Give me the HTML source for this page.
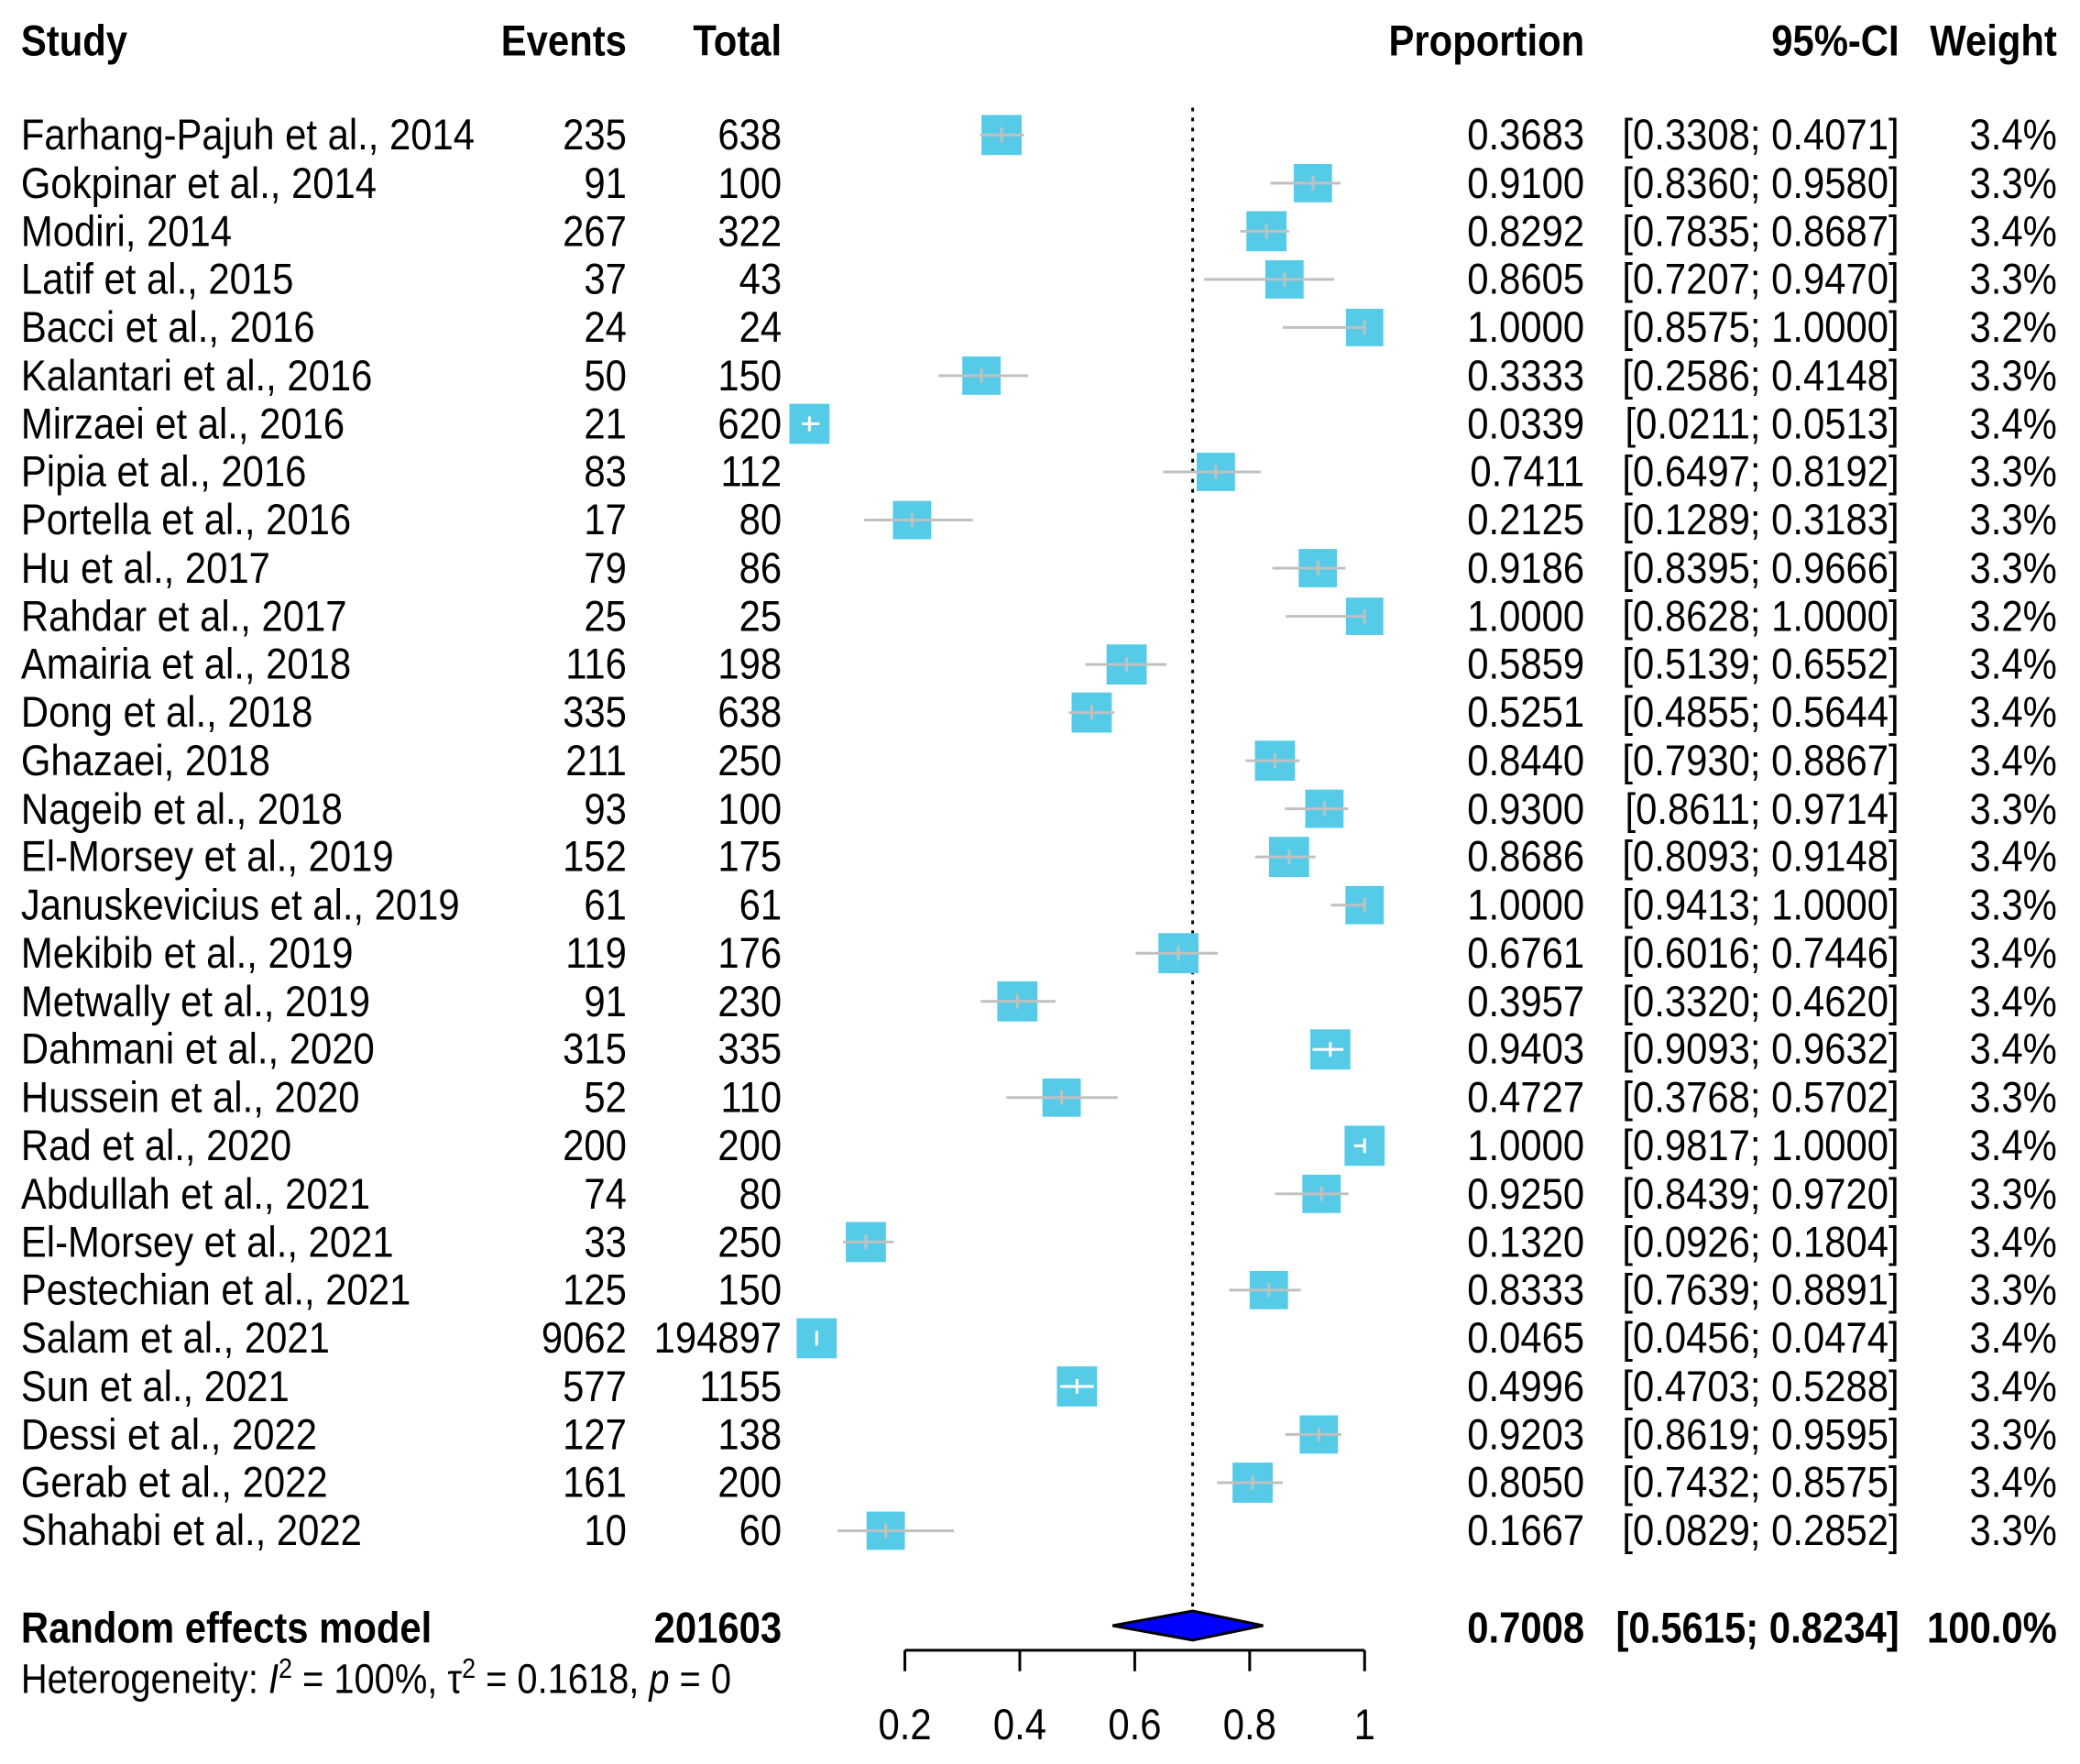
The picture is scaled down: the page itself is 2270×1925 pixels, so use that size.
<!DOCTYPE html>
<html><head><meta charset="utf-8"><style>
html,body{margin:0;padding:0;background:#fff;}
#o{position:relative;width:2270px;height:1925px;overflow:hidden;}
#w{position:absolute;left:0;top:0;width:2280px;height:1934px;transform:scale(0.9955);transform-origin:0 0;font-family:"Liberation Sans",Arial,sans-serif;color:#000;}
.t{position:absolute;height:50px;line-height:50px;font-size:42px;white-space:nowrap;transform:scaleY(1.13);}
.l{left:23px;}
.b{font-weight:bold;}
svg{position:absolute;left:0;top:0;}
</style></head><body><div id="o"><div id="w">
<svg width="2280" height="1934">
<line x1="1307.5" y1="118" x2="1307.5" y2="1770" stroke="#000" stroke-width="3" stroke-dasharray="4,7"/>
<g fill="#56cbe8">
<rect x="1076" y="126" width="44" height="44"/>
<rect x="1418.3" y="179.8" width="42" height="42"/>
<rect x="1366.4" y="231.5" width="44" height="44"/>
<rect x="1387.1" y="285.3" width="42" height="42"/>
<rect x="1475.5" y="338.5" width="41" height="41"/>
<rect x="1055" y="390.8" width="42" height="42"/>
<rect x="865.4" y="442.6" width="44" height="44"/>
<rect x="1311.9" y="496.3" width="42" height="42"/>
<rect x="978.9" y="549.1" width="42" height="42"/>
<rect x="1423.7" y="601.8" width="42" height="42"/>
<rect x="1475.5" y="655.1" width="41" height="41"/>
<rect x="1213.1" y="706.4" width="44" height="44"/>
<rect x="1174.8" y="759.1" width="44" height="44"/>
<rect x="1375.7" y="811.9" width="44" height="44"/>
<rect x="1430.9" y="865.6" width="42" height="42"/>
<rect x="1391.2" y="917.4" width="44" height="44"/>
<rect x="1475" y="971.2" width="42" height="42"/>
<rect x="1269.9" y="1022.9" width="44" height="44"/>
<rect x="1093.3" y="1075.7" width="44" height="44"/>
<rect x="1436.4" y="1128.4" width="44" height="44"/>
<rect x="1142.8" y="1182.2" width="42" height="42"/>
<rect x="1474" y="1234" width="44" height="44"/>
<rect x="1427.8" y="1287.7" width="42" height="42"/>
<rect x="927.2" y="1339.5" width="44" height="44"/>
<rect x="1370" y="1393.2" width="42" height="42"/>
<rect x="873.3" y="1445" width="44" height="44"/>
<rect x="1158.7" y="1497.8" width="44" height="44"/>
<rect x="1424.8" y="1551.5" width="42" height="42"/>
<rect x="1351.2" y="1603.3" width="44" height="44"/>
<rect x="950" y="1657" width="42" height="42"/>
</g>
<g stroke="#c0c0c0" stroke-width="3">
<path d="M1074.4 148H1122.5M1098 140V156"/>
<path d="M1392.7 200.8H1469.5M1439.3 192.8V208.8"/>
<path d="M1359.6 253.5H1413.3M1388.4 245.5V261.5"/>
<path d="M1320 306.3H1462.6M1408.1 298.3V314.3"/>
<path d="M1406.2 359H1496M1496 351V367"/>
<path d="M1028.9 411.8H1127.3M1076 403.8V419.8"/>
<path d="M1409.6 675.6H1496M1496 667.6V683.6"/>
<path d="M1275.3 517.3H1382.1M1332.9 509.3V525.3"/>
<path d="M947.2 570.1H1066.5M999.9 562.1V578.1"/>
<path d="M1394.9 622.8H1475M1444.7 614.8V630.8"/>
<path d="M1189.8 728.4H1278.8M1235.1 720.4V736.4"/>
<path d="M1171.9 781.1H1221.6M1196.8 773.1V789.1"/>
<path d="M1365.6 833.9H1424.6M1397.7 825.9V841.9"/>
<path d="M1408.5 886.6H1478M1451.9 878.6V894.6"/>
<path d="M1375.9 939.4H1442.3M1413.2 931.4V947.4"/>
<path d="M1459 992.2H1496M1496 984.2V1000.2"/>
<path d="M1245 1044.9H1335.1M1291.9 1036.9V1052.9"/>
<path d="M1075.2 1097.7H1157.1M1115.3 1089.7V1105.7"/>
<path d="M1103.4 1203.2H1225.2M1163.8 1195.2V1211.2"/>
<path d="M1397.7 1308.7H1478.4M1448.8 1300.7V1316.7"/>
<path d="M924.3 1361.5H979.7M949.2 1353.5V1369.5"/>
<path d="M1347.3 1414.2H1426.1M1391 1406.2V1422.2"/>
<path d="M1409 1572.5H1470.5M1445.8 1564.5V1580.5"/>
<path d="M1334.2 1625.3H1406.2M1373.2 1617.3V1633.3"/>
<path d="M918.2 1678H1045.7M971 1670V1686"/>
</g>
<g stroke="#fff" stroke-width="3">
<path d="M879.3 464.6H898.3M887.4 456.6V472.6"/>
<path d="M1438.9 1150.4H1472.8M1458.4 1142.4V1158.4"/>
<path d="M1484.5 1256H1496M1496 1248V1264"/>
<path d="M895.3 1459V1475"/>
<path d="M1162.3 1519.8H1199.1M1180.7 1511.8V1527.8"/>
</g>
<polygon points="1219.7,1782 1307.5,1766 1384.7,1782 1307.5,1798" fill="#0000ff" stroke="#000" stroke-width="3"/>
<g stroke="#000" stroke-width="3" fill="none">
<path d="M992 1809H1496M992 1809V1832M1118 1809V1832M1244 1809V1832M1370 1809V1832M1496 1809V1832"/>
</g>
</svg>
<div class="t l b" style="top:20px">Study</div>
<div class="t b" style="top:20px;right:1593px">Events</div>
<div class="t b" style="top:20px;right:1423px">Total</div>
<div class="t b" style="top:20px;right:543px">Proportion</div>
<div class="t b" style="top:20px;right:198px">95%-CI</div>
<div class="t b" style="top:20px;right:25px">Weight</div>

<div class="t l" style="top:123px">Farhang-Pajuh et al., 2014</div>
<div class="t l" style="top:175.8px">Gokpinar et al., 2014</div>
<div class="t l" style="top:228.5px">Modiri, 2014</div>
<div class="t l" style="top:281.3px">Latif et al., 2015</div>
<div class="t l" style="top:334px">Bacci et al., 2016</div>
<div class="t l" style="top:386.8px">Kalantari et al., 2016</div>
<div class="t l" style="top:439.6px">Mirzaei et al., 2016</div>
<div class="t l" style="top:492.3px">Pipia et al., 2016</div>
<div class="t l" style="top:545.1px">Portella et al., 2016</div>
<div class="t l" style="top:597.8px">Hu et al., 2017</div>
<div class="t l" style="top:650.6px">Rahdar et al., 2017</div>
<div class="t l" style="top:703.4px">Amairia et al., 2018</div>
<div class="t l" style="top:756.1px">Dong et al., 2018</div>
<div class="t l" style="top:808.9px">Ghazaei, 2018</div>
<div class="t l" style="top:861.6px">Nageib et al., 2018</div>
<div class="t l" style="top:914.4px">El-Morsey et al., 2019</div>
<div class="t l" style="top:967.2px">Januskevicius et al., 2019</div>
<div class="t l" style="top:1019.9px">Mekibib et al., 2019</div>
<div class="t l" style="top:1072.7px">Metwally et al., 2019</div>
<div class="t l" style="top:1125.4px">Dahmani et al., 2020</div>
<div class="t l" style="top:1178.2px">Hussein et al., 2020</div>
<div class="t l" style="top:1231px">Rad et al., 2020</div>
<div class="t l" style="top:1283.7px">Abdullah et al., 2021</div>
<div class="t l" style="top:1336.5px">El-Morsey et al., 2021</div>
<div class="t l" style="top:1389.2px">Pestechian et al., 2021</div>
<div class="t l" style="top:1442px">Salam et al., 2021</div>
<div class="t l" style="top:1494.8px">Sun et al., 2021</div>
<div class="t l" style="top:1547.5px">Dessi et al., 2022</div>
<div class="t l" style="top:1600.3px">Gerab et al., 2022</div>
<div class="t l" style="top:1653px">Shahabi et al., 2022</div>

<div class="t" style="top:123px;right:1593px">235</div><div class="t" style="top:123px;right:1423px">638</div><div class="t" style="top:123px;right:543px">0.3683</div><div class="t" style="top:123px;right:198px">[0.3308; 0.4071]</div><div class="t" style="top:123px;right:25px">3.4%</div>
<div class="t" style="top:175.8px;right:1593px">91</div><div class="t" style="top:175.8px;right:1423px">100</div><div class="t" style="top:175.8px;right:543px">0.9100</div><div class="t" style="top:175.8px;right:198px">[0.8360; 0.9580]</div><div class="t" style="top:175.8px;right:25px">3.3%</div>
<div class="t" style="top:228.5px;right:1593px">267</div><div class="t" style="top:228.5px;right:1423px">322</div><div class="t" style="top:228.5px;right:543px">0.8292</div><div class="t" style="top:228.5px;right:198px">[0.7835; 0.8687]</div><div class="t" style="top:228.5px;right:25px">3.4%</div>
<div class="t" style="top:281.3px;right:1593px">37</div><div class="t" style="top:281.3px;right:1423px">43</div><div class="t" style="top:281.3px;right:543px">0.8605</div><div class="t" style="top:281.3px;right:198px">[0.7207; 0.9470]</div><div class="t" style="top:281.3px;right:25px">3.3%</div>
<div class="t" style="top:334px;right:1593px">24</div><div class="t" style="top:334px;right:1423px">24</div><div class="t" style="top:334px;right:543px">1.0000</div><div class="t" style="top:334px;right:198px">[0.8575; 1.0000]</div><div class="t" style="top:334px;right:25px">3.2%</div>
<div class="t" style="top:386.8px;right:1593px">50</div><div class="t" style="top:386.8px;right:1423px">150</div><div class="t" style="top:386.8px;right:543px">0.3333</div><div class="t" style="top:386.8px;right:198px">[0.2586; 0.4148]</div><div class="t" style="top:386.8px;right:25px">3.3%</div>
<div class="t" style="top:439.6px;right:1593px">21</div><div class="t" style="top:439.6px;right:1423px">620</div><div class="t" style="top:439.6px;right:543px">0.0339</div><div class="t" style="top:439.6px;right:198px">[0.0211; 0.0513]</div><div class="t" style="top:439.6px;right:25px">3.4%</div>
<div class="t" style="top:492.3px;right:1593px">83</div><div class="t" style="top:492.3px;right:1423px">112</div><div class="t" style="top:492.3px;right:543px">0.7411</div><div class="t" style="top:492.3px;right:198px">[0.6497; 0.8192]</div><div class="t" style="top:492.3px;right:25px">3.3%</div>
<div class="t" style="top:545.1px;right:1593px">17</div><div class="t" style="top:545.1px;right:1423px">80</div><div class="t" style="top:545.1px;right:543px">0.2125</div><div class="t" style="top:545.1px;right:198px">[0.1289; 0.3183]</div><div class="t" style="top:545.1px;right:25px">3.3%</div>
<div class="t" style="top:597.8px;right:1593px">79</div><div class="t" style="top:597.8px;right:1423px">86</div><div class="t" style="top:597.8px;right:543px">0.9186</div><div class="t" style="top:597.8px;right:198px">[0.8395; 0.9666]</div><div class="t" style="top:597.8px;right:25px">3.3%</div>
<div class="t" style="top:650.6px;right:1593px">25</div><div class="t" style="top:650.6px;right:1423px">25</div><div class="t" style="top:650.6px;right:543px">1.0000</div><div class="t" style="top:650.6px;right:198px">[0.8628; 1.0000]</div><div class="t" style="top:650.6px;right:25px">3.2%</div>
<div class="t" style="top:703.4px;right:1593px">116</div><div class="t" style="top:703.4px;right:1423px">198</div><div class="t" style="top:703.4px;right:543px">0.5859</div><div class="t" style="top:703.4px;right:198px">[0.5139; 0.6552]</div><div class="t" style="top:703.4px;right:25px">3.4%</div>
<div class="t" style="top:756.1px;right:1593px">335</div><div class="t" style="top:756.1px;right:1423px">638</div><div class="t" style="top:756.1px;right:543px">0.5251</div><div class="t" style="top:756.1px;right:198px">[0.4855; 0.5644]</div><div class="t" style="top:756.1px;right:25px">3.4%</div>
<div class="t" style="top:808.9px;right:1593px">211</div><div class="t" style="top:808.9px;right:1423px">250</div><div class="t" style="top:808.9px;right:543px">0.8440</div><div class="t" style="top:808.9px;right:198px">[0.7930; 0.8867]</div><div class="t" style="top:808.9px;right:25px">3.4%</div>
<div class="t" style="top:861.6px;right:1593px">93</div><div class="t" style="top:861.6px;right:1423px">100</div><div class="t" style="top:861.6px;right:543px">0.9300</div><div class="t" style="top:861.6px;right:198px">[0.8611; 0.9714]</div><div class="t" style="top:861.6px;right:25px">3.3%</div>
<div class="t" style="top:914.4px;right:1593px">152</div><div class="t" style="top:914.4px;right:1423px">175</div><div class="t" style="top:914.4px;right:543px">0.8686</div><div class="t" style="top:914.4px;right:198px">[0.8093; 0.9148]</div><div class="t" style="top:914.4px;right:25px">3.4%</div>
<div class="t" style="top:967.2px;right:1593px">61</div><div class="t" style="top:967.2px;right:1423px">61</div><div class="t" style="top:967.2px;right:543px">1.0000</div><div class="t" style="top:967.2px;right:198px">[0.9413; 1.0000]</div><div class="t" style="top:967.2px;right:25px">3.3%</div>
<div class="t" style="top:1019.9px;right:1593px">119</div><div class="t" style="top:1019.9px;right:1423px">176</div><div class="t" style="top:1019.9px;right:543px">0.6761</div><div class="t" style="top:1019.9px;right:198px">[0.6016; 0.7446]</div><div class="t" style="top:1019.9px;right:25px">3.4%</div>
<div class="t" style="top:1072.7px;right:1593px">91</div><div class="t" style="top:1072.7px;right:1423px">230</div><div class="t" style="top:1072.7px;right:543px">0.3957</div><div class="t" style="top:1072.7px;right:198px">[0.3320; 0.4620]</div><div class="t" style="top:1072.7px;right:25px">3.4%</div>
<div class="t" style="top:1125.4px;right:1593px">315</div><div class="t" style="top:1125.4px;right:1423px">335</div><div class="t" style="top:1125.4px;right:543px">0.9403</div><div class="t" style="top:1125.4px;right:198px">[0.9093; 0.9632]</div><div class="t" style="top:1125.4px;right:25px">3.4%</div>
<div class="t" style="top:1178.2px;right:1593px">52</div><div class="t" style="top:1178.2px;right:1423px">110</div><div class="t" style="top:1178.2px;right:543px">0.4727</div><div class="t" style="top:1178.2px;right:198px">[0.3768; 0.5702]</div><div class="t" style="top:1178.2px;right:25px">3.3%</div>
<div class="t" style="top:1231px;right:1593px">200</div><div class="t" style="top:1231px;right:1423px">200</div><div class="t" style="top:1231px;right:543px">1.0000</div><div class="t" style="top:1231px;right:198px">[0.9817; 1.0000]</div><div class="t" style="top:1231px;right:25px">3.4%</div>
<div class="t" style="top:1283.7px;right:1593px">74</div><div class="t" style="top:1283.7px;right:1423px">80</div><div class="t" style="top:1283.7px;right:543px">0.9250</div><div class="t" style="top:1283.7px;right:198px">[0.8439; 0.9720]</div><div class="t" style="top:1283.7px;right:25px">3.3%</div>
<div class="t" style="top:1336.5px;right:1593px">33</div><div class="t" style="top:1336.5px;right:1423px">250</div><div class="t" style="top:1336.5px;right:543px">0.1320</div><div class="t" style="top:1336.5px;right:198px">[0.0926; 0.1804]</div><div class="t" style="top:1336.5px;right:25px">3.4%</div>
<div class="t" style="top:1389.2px;right:1593px">125</div><div class="t" style="top:1389.2px;right:1423px">150</div><div class="t" style="top:1389.2px;right:543px">0.8333</div><div class="t" style="top:1389.2px;right:198px">[0.7639; 0.8891]</div><div class="t" style="top:1389.2px;right:25px">3.3%</div>
<div class="t" style="top:1442px;right:1593px">9062</div><div class="t" style="top:1442px;right:1423px">194897</div><div class="t" style="top:1442px;right:543px">0.0465</div><div class="t" style="top:1442px;right:198px">[0.0456; 0.0474]</div><div class="t" style="top:1442px;right:25px">3.4%</div>
<div class="t" style="top:1494.8px;right:1593px">577</div><div class="t" style="top:1494.8px;right:1423px">1155</div><div class="t" style="top:1494.8px;right:543px">0.4996</div><div class="t" style="top:1494.8px;right:198px">[0.4703; 0.5288]</div><div class="t" style="top:1494.8px;right:25px">3.4%</div>
<div class="t" style="top:1547.5px;right:1593px">127</div><div class="t" style="top:1547.5px;right:1423px">138</div><div class="t" style="top:1547.5px;right:543px">0.9203</div><div class="t" style="top:1547.5px;right:198px">[0.8619; 0.9595]</div><div class="t" style="top:1547.5px;right:25px">3.3%</div>
<div class="t" style="top:1600.3px;right:1593px">161</div><div class="t" style="top:1600.3px;right:1423px">200</div><div class="t" style="top:1600.3px;right:543px">0.8050</div><div class="t" style="top:1600.3px;right:198px">[0.7432; 0.8575]</div><div class="t" style="top:1600.3px;right:25px">3.4%</div>
<div class="t" style="top:1653px;right:1593px">10</div><div class="t" style="top:1653px;right:1423px">60</div><div class="t" style="top:1653px;right:543px">0.1667</div><div class="t" style="top:1653px;right:198px">[0.0829; 0.2852]</div><div class="t" style="top:1653px;right:25px">3.3%</div>

<div class="t l b" style="top:1760px">Random effects model</div>
<div class="t b" style="top:1760px;right:1423px">201603</div>
<div class="t b" style="top:1760px;right:543px">0.7008</div>
<div class="t b" style="top:1760px;right:198px">[0.5615; 0.8234]</div>
<div class="t b" style="top:1760px;right:25px">100.0%</div>
<div class="t l" style="top:1816px;font-size:40px">Heterogeneity: <i>I</i><sup style="font-size:27px;line-height:0">2</sup> = 100%, τ<sup style="font-size:27px;line-height:0">2</sup> = 0.1618, <i>p</i> = 0</div>

<div class="t" style="top:1866px;left:942px;width:100px;text-align:center">0.2</div>
<div class="t" style="top:1866px;left:1068px;width:100px;text-align:center">0.4</div>
<div class="t" style="top:1866px;left:1194px;width:100px;text-align:center">0.6</div>
<div class="t" style="top:1866px;left:1320px;width:100px;text-align:center">0.8</div>
<div class="t" style="top:1866px;left:1446px;width:100px;text-align:center">1</div>
</div></div></body></html>
